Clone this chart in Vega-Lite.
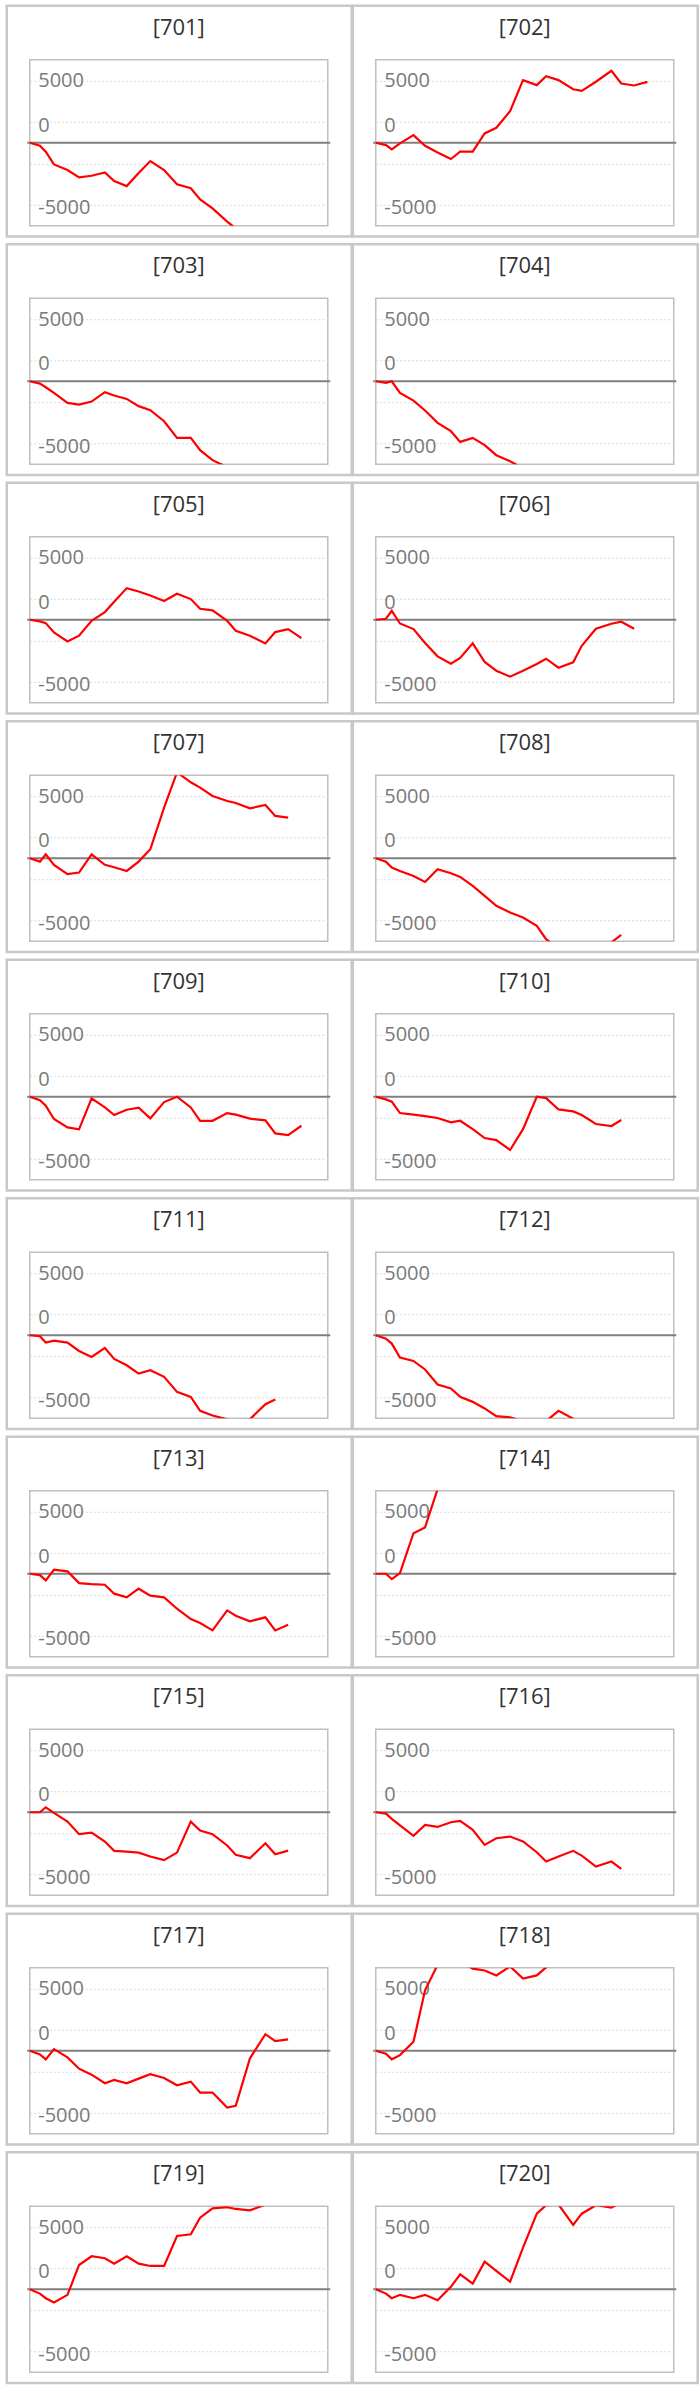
{
  "$schema": "https://vega.github.io/schema/vega-lite/v6.json",
  "background": "white",
  "padding": {"left": 4.75, "top": 2.75, "right": 1.75, "bottom": 3.5},
  "data": {
    "values": [
      {"id": "[701]", "t": 0, "v": 0}, {"id": "[701]", "t": 0.82, "v": -240}, {"id": "[701]", "t": 1.29, "v": -720}, {"id": "[701]", "t": 1.95, "v": -1740},
      {"id": "[701]", "t": 3.04, "v": -2190}, {"id": "[701]", "t": 3.97, "v": -2780}, {"id": "[701]", "t": 4.98, "v": -2650}, {"id": "[701]", "t": 6.05, "v": -2380},
      {"id": "[701]", "t": 6.8, "v": -3075}, {"id": "[701]", "t": 7.81, "v": -3480}, {"id": "[701]", "t": 8.77, "v": -2430}, {"id": "[701]", "t": 9.71, "v": -1470},
      {"id": "[701]", "t": 10.82, "v": -2190}, {"id": "[701]", "t": 11.86, "v": -3340}, {"id": "[701]", "t": 12.97, "v": -3660}, {"id": "[701]", "t": 13.72, "v": -4550},
      {"id": "[701]", "t": 14.72, "v": -5270}, {"id": "[701]", "t": 15.9, "v": -6340}, {"id": "[701]", "t": 16.59, "v": -6885},

      {"id": "[702]", "t": 0, "v": 0}, {"id": "[702]", "t": 0.82, "v": -190}, {"id": "[702]", "t": 1.29, "v": -535}, {"id": "[702]", "t": 1.95, "v": -50},
      {"id": "[702]", "t": 3.04, "v": 615}, {"id": "[702]", "t": 3.97, "v": -240}, {"id": "[702]", "t": 4.98, "v": -775}, {"id": "[702]", "t": 6.05, "v": -1310},
      {"id": "[702]", "t": 6.8, "v": -720}, {"id": "[702]", "t": 7.81, "v": -720}, {"id": "[702]", "t": 8.77, "v": 750}, {"id": "[702]", "t": 9.71, "v": 1200},
      {"id": "[702]", "t": 10.82, "v": 2540}, {"id": "[702]", "t": 11.86, "v": 5030}, {"id": "[702]", "t": 12.97, "v": 4630}, {"id": "[702]", "t": 13.72, "v": 5350},
      {"id": "[702]", "t": 14.72, "v": 5030}, {"id": "[702]", "t": 15.9, "v": 4300}, {"id": "[702]", "t": 16.59, "v": 4170}, {"id": "[702]", "t": 17.73, "v": 4900},
      {"id": "[702]", "t": 18.98, "v": 5780}, {"id": "[702]", "t": 19.77, "v": 4760}, {"id": "[702]", "t": 20.81, "v": 4600}, {"id": "[702]", "t": 21.88, "v": 4890},

      {"id": "[703]", "t": 0, "v": 0}, {"id": "[703]", "t": 0.82, "v": -190}, {"id": "[703]", "t": 1.29, "v": -480}, {"id": "[703]", "t": 1.95, "v": -940},
      {"id": "[703]", "t": 3.04, "v": -1740}, {"id": "[703]", "t": 3.97, "v": -1870}, {"id": "[703]", "t": 4.98, "v": -1630}, {"id": "[703]", "t": 6.05, "v": -880},
      {"id": "[703]", "t": 6.8, "v": -1150}, {"id": "[703]", "t": 7.81, "v": -1420}, {"id": "[703]", "t": 8.77, "v": -2000}, {"id": "[703]", "t": 9.71, "v": -2330},
      {"id": "[703]", "t": 10.82, "v": -3210}, {"id": "[703]", "t": 11.86, "v": -4550}, {"id": "[703]", "t": 12.97, "v": -4550}, {"id": "[703]", "t": 13.72, "v": -5540},
      {"id": "[703]", "t": 14.72, "v": -6340}, {"id": "[703]", "t": 15.9, "v": -6900},

      {"id": "[704]", "t": 0, "v": 0}, {"id": "[704]", "t": 0.82, "v": -130}, {"id": "[704]", "t": 1.29, "v": 0}, {"id": "[704]", "t": 1.95, "v": -940},
      {"id": "[704]", "t": 3.04, "v": -1550}, {"id": "[704]", "t": 3.97, "v": -2350}, {"id": "[704]", "t": 4.98, "v": -3340}, {"id": "[704]", "t": 6.05, "v": -4010},
      {"id": "[704]", "t": 6.8, "v": -4870}, {"id": "[704]", "t": 7.81, "v": -4550}, {"id": "[704]", "t": 8.77, "v": -5130}, {"id": "[704]", "t": 9.71, "v": -5940},
      {"id": "[704]", "t": 10.82, "v": -6420}, {"id": "[704]", "t": 11.86, "v": -7000},

      {"id": "[705]", "t": 0, "v": 0}, {"id": "[705]", "t": 0.82, "v": -130}, {"id": "[705]", "t": 1.29, "v": -270}, {"id": "[705]", "t": 1.95, "v": -1020},
      {"id": "[705]", "t": 3.04, "v": -1740}, {"id": "[705]", "t": 3.97, "v": -1280}, {"id": "[705]", "t": 4.98, "v": -80}, {"id": "[705]", "t": 6.05, "v": 615},
      {"id": "[705]", "t": 6.8, "v": 1440}, {"id": "[705]", "t": 7.81, "v": 2540}, {"id": "[705]", "t": 8.77, "v": 2270}, {"id": "[705]", "t": 9.71, "v": 1950},
      {"id": "[705]", "t": 10.82, "v": 1500}, {"id": "[705]", "t": 11.86, "v": 2090}, {"id": "[705]", "t": 12.97, "v": 1660}, {"id": "[705]", "t": 13.72, "v": 880},
      {"id": "[705]", "t": 14.72, "v": 750}, {"id": "[705]", "t": 15.9, "v": -80}, {"id": "[705]", "t": 16.59, "v": -880}, {"id": "[705]", "t": 17.73, "v": -1280},
      {"id": "[705]", "t": 18.98, "v": -1900}, {"id": "[705]", "t": 19.77, "v": -990}, {"id": "[705]", "t": 20.81, "v": -750}, {"id": "[705]", "t": 21.88, "v": -1470},

      {"id": "[706]", "t": 0, "v": 0}, {"id": "[706]", "t": 0.82, "v": 80}, {"id": "[706]", "t": 1.29, "v": 720}, {"id": "[706]", "t": 1.95, "v": -300},
      {"id": "[706]", "t": 3.04, "v": -750}, {"id": "[706]", "t": 3.97, "v": -1870}, {"id": "[706]", "t": 4.98, "v": -2940}, {"id": "[706]", "t": 6.05, "v": -3530},
      {"id": "[706]", "t": 6.8, "v": -3070}, {"id": "[706]", "t": 7.81, "v": -1900}, {"id": "[706]", "t": 8.77, "v": -3390}, {"id": "[706]", "t": 9.71, "v": -4090},
      {"id": "[706]", "t": 10.82, "v": -4570}, {"id": "[706]", "t": 11.86, "v": -4090}, {"id": "[706]", "t": 12.97, "v": -3560}, {"id": "[706]", "t": 13.72, "v": -3130},
      {"id": "[706]", "t": 14.72, "v": -3850}, {"id": "[706]", "t": 15.9, "v": -3420}, {"id": "[706]", "t": 16.59, "v": -2090}, {"id": "[706]", "t": 17.73, "v": -720},
      {"id": "[706]", "t": 18.98, "v": -320}, {"id": "[706]", "t": 19.77, "v": -160}, {"id": "[706]", "t": 20.81, "v": -720},

      {"id": "[707]", "t": 0, "v": 0}, {"id": "[707]", "t": 0.82, "v": -270}, {"id": "[707]", "t": 1.29, "v": 320}, {"id": "[707]", "t": 1.95, "v": -530},
      {"id": "[707]", "t": 3.04, "v": -1280}, {"id": "[707]", "t": 3.97, "v": -1150}, {"id": "[707]", "t": 4.98, "v": 320}, {"id": "[707]", "t": 6.05, "v": -530},
      {"id": "[707]", "t": 6.8, "v": -720}, {"id": "[707]", "t": 7.81, "v": -1020}, {"id": "[707]", "t": 8.77, "v": -270}, {"id": "[707]", "t": 9.71, "v": 720},
      {"id": "[707]", "t": 10.82, "v": 4060}, {"id": "[707]", "t": 11.86, "v": 6900}, {"id": "[707]", "t": 12.97, "v": 6100}, {"id": "[707]", "t": 13.72, "v": 5670},
      {"id": "[707]", "t": 14.72, "v": 5000}, {"id": "[707]", "t": 15.9, "v": 4600}, {"id": "[707]", "t": 16.59, "v": 4440}, {"id": "[707]", "t": 17.73, "v": 4010},
      {"id": "[707]", "t": 18.98, "v": 4280}, {"id": "[707]", "t": 19.77, "v": 3400}, {"id": "[707]", "t": 20.81, "v": 3260},

      {"id": "[708]", "t": 0, "v": 0}, {"id": "[708]", "t": 0.82, "v": -270}, {"id": "[708]", "t": 1.29, "v": -750}, {"id": "[708]", "t": 1.95, "v": -1020},
      {"id": "[708]", "t": 3.04, "v": -1420}, {"id": "[708]", "t": 3.97, "v": -1900}, {"id": "[708]", "t": 4.98, "v": -880}, {"id": "[708]", "t": 6.05, "v": -1200},
      {"id": "[708]", "t": 6.8, "v": -1500}, {"id": "[708]", "t": 7.81, "v": -2220}, {"id": "[708]", "t": 8.77, "v": -3020}, {"id": "[708]", "t": 9.71, "v": -3820},
      {"id": "[708]", "t": 10.82, "v": -4360}, {"id": "[708]", "t": 11.86, "v": -4760}, {"id": "[708]", "t": 12.97, "v": -5430}, {"id": "[708]", "t": 13.72, "v": -6500},
      {"id": "[708]", "t": 14.72, "v": -7300}, {"id": "[708]", "t": 15.9, "v": -7500}, {"id": "[708]", "t": 16.59, "v": -7500}, {"id": "[708]", "t": 17.73, "v": -7300},
      {"id": "[708]", "t": 18.98, "v": -6750}, {"id": "[708]", "t": 19.77, "v": -6150},

      {"id": "[709]", "t": 0, "v": 0}, {"id": "[709]", "t": 0.82, "v": -270}, {"id": "[709]", "t": 1.29, "v": -720}, {"id": "[709]", "t": 1.95, "v": -1790},
      {"id": "[709]", "t": 3.04, "v": -2460}, {"id": "[709]", "t": 3.97, "v": -2620}, {"id": "[709]", "t": 4.98, "v": -130}, {"id": "[709]", "t": 6.05, "v": -860},
      {"id": "[709]", "t": 6.8, "v": -1470}, {"id": "[709]", "t": 7.81, "v": -1040}, {"id": "[709]", "t": 8.77, "v": -880}, {"id": "[709]", "t": 9.71, "v": -1740},
      {"id": "[709]", "t": 10.82, "v": -430}, {"id": "[709]", "t": 11.86, "v": 0}, {"id": "[709]", "t": 12.97, "v": -860}, {"id": "[709]", "t": 13.72, "v": -1930},
      {"id": "[709]", "t": 14.72, "v": -1930}, {"id": "[709]", "t": 15.9, "v": -1310}, {"id": "[709]", "t": 16.59, "v": -1440}, {"id": "[709]", "t": 17.73, "v": -1760},
      {"id": "[709]", "t": 18.98, "v": -1900}, {"id": "[709]", "t": 19.77, "v": -2940}, {"id": "[709]", "t": 20.81, "v": -3080}, {"id": "[709]", "t": 21.88, "v": -2330},

      {"id": "[710]", "t": 0, "v": 0}, {"id": "[710]", "t": 0.82, "v": -210}, {"id": "[710]", "t": 1.29, "v": -400}, {"id": "[710]", "t": 1.95, "v": -1310},
      {"id": "[710]", "t": 3.04, "v": -1440}, {"id": "[710]", "t": 3.97, "v": -1550}, {"id": "[710]", "t": 4.98, "v": -1710}, {"id": "[710]", "t": 6.05, "v": -2060},
      {"id": "[710]", "t": 6.8, "v": -1930}, {"id": "[710]", "t": 7.81, "v": -2600}, {"id": "[710]", "t": 8.77, "v": -3320}, {"id": "[710]", "t": 9.71, "v": -3480},
      {"id": "[710]", "t": 10.82, "v": -4280}, {"id": "[710]", "t": 11.86, "v": -2600}, {"id": "[710]", "t": 12.97, "v": 0}, {"id": "[710]", "t": 13.72, "v": -110},
      {"id": "[710]", "t": 14.72, "v": -1020}, {"id": "[710]", "t": 15.9, "v": -1180}, {"id": "[710]", "t": 16.59, "v": -1470}, {"id": "[710]", "t": 17.73, "v": -2190},
      {"id": "[710]", "t": 18.98, "v": -2350}, {"id": "[710]", "t": 19.77, "v": -1870},

      {"id": "[711]", "t": 0, "v": 0}, {"id": "[711]", "t": 0.82, "v": -80}, {"id": "[711]", "t": 1.29, "v": -590}, {"id": "[711]", "t": 1.95, "v": -430},
      {"id": "[711]", "t": 3.04, "v": -590}, {"id": "[711]", "t": 3.97, "v": -1260}, {"id": "[711]", "t": 4.98, "v": -1740}, {"id": "[711]", "t": 6.05, "v": -1020},
      {"id": "[711]", "t": 6.8, "v": -1900}, {"id": "[711]", "t": 7.81, "v": -2410}, {"id": "[711]", "t": 8.77, "v": -3080}, {"id": "[711]", "t": 9.71, "v": -2810},
      {"id": "[711]", "t": 10.82, "v": -3340}, {"id": "[711]", "t": 11.86, "v": -4550}, {"id": "[711]", "t": 12.97, "v": -4950}, {"id": "[711]", "t": 13.72, "v": -6070},
      {"id": "[711]", "t": 14.72, "v": -6450}, {"id": "[711]", "t": 15.9, "v": -6750}, {"id": "[711]", "t": 16.59, "v": -7000}, {"id": "[711]", "t": 17.73, "v": -6750},
      {"id": "[711]", "t": 18.98, "v": -5540}, {"id": "[711]", "t": 19.77, "v": -5160},

      {"id": "[712]", "t": 0, "v": 0}, {"id": "[712]", "t": 0.82, "v": -270}, {"id": "[712]", "t": 1.29, "v": -670}, {"id": "[712]", "t": 1.95, "v": -1790},
      {"id": "[712]", "t": 3.04, "v": -2060}, {"id": "[712]", "t": 3.97, "v": -2750}, {"id": "[712]", "t": 4.98, "v": -3960}, {"id": "[712]", "t": 6.05, "v": -4280},
      {"id": "[712]", "t": 6.8, "v": -4950}, {"id": "[712]", "t": 7.81, "v": -5350}, {"id": "[712]", "t": 8.77, "v": -5880}, {"id": "[712]", "t": 9.71, "v": -6500},
      {"id": "[712]", "t": 10.82, "v": -6600}, {"id": "[712]", "t": 11.86, "v": -6900}, {"id": "[712]", "t": 12.97, "v": -7000}, {"id": "[712]", "t": 13.72, "v": -6900},
      {"id": "[712]", "t": 14.72, "v": -6070}, {"id": "[712]", "t": 15.9, "v": -6700},

      {"id": "[713]", "t": 0, "v": 0}, {"id": "[713]", "t": 0.82, "v": -110}, {"id": "[713]", "t": 1.29, "v": -530}, {"id": "[713]", "t": 1.95, "v": 320},
      {"id": "[713]", "t": 3.04, "v": 190}, {"id": "[713]", "t": 3.97, "v": -750}, {"id": "[713]", "t": 4.98, "v": -830}, {"id": "[713]", "t": 6.05, "v": -880},
      {"id": "[713]", "t": 6.8, "v": -1600}, {"id": "[713]", "t": 7.81, "v": -1900}, {"id": "[713]", "t": 8.77, "v": -1200}, {"id": "[713]", "t": 9.71, "v": -1760},
      {"id": "[713]", "t": 10.82, "v": -1900}, {"id": "[713]", "t": 11.86, "v": -2810}, {"id": "[713]", "t": 12.97, "v": -3640}, {"id": "[713]", "t": 13.72, "v": -3960},
      {"id": "[713]", "t": 14.72, "v": -4550}, {"id": "[713]", "t": 15.9, "v": -2940}, {"id": "[713]", "t": 16.59, "v": -3370}, {"id": "[713]", "t": 17.73, "v": -3820},
      {"id": "[713]", "t": 18.98, "v": -3500}, {"id": "[713]", "t": 19.77, "v": -4550}, {"id": "[713]", "t": 20.81, "v": -4090},

      {"id": "[714]", "t": 0, "v": 0}, {"id": "[714]", "t": 0.82, "v": 0}, {"id": "[714]", "t": 1.29, "v": -430}, {"id": "[714]", "t": 1.95, "v": 50},
      {"id": "[714]", "t": 3.04, "v": 3260}, {"id": "[714]", "t": 3.97, "v": 3720}, {"id": "[714]", "t": 4.98, "v": 6800}, {"id": "[714]", "t": 6.05, "v": 7500},

      {"id": "[715]", "t": 0, "v": 0}, {"id": "[715]", "t": 0.82, "v": 0}, {"id": "[715]", "t": 1.29, "v": 400}, {"id": "[715]", "t": 1.95, "v": -50},
      {"id": "[715]", "t": 3.04, "v": -750}, {"id": "[715]", "t": 3.97, "v": -1760}, {"id": "[715]", "t": 4.98, "v": -1630}, {"id": "[715]", "t": 6.05, "v": -2350},
      {"id": "[715]", "t": 6.8, "v": -3100}, {"id": "[715]", "t": 7.81, "v": -3160}, {"id": "[715]", "t": 8.77, "v": -3240}, {"id": "[715]", "t": 9.71, "v": -3560},
      {"id": "[715]", "t": 10.82, "v": -3850}, {"id": "[715]", "t": 11.86, "v": -3240}, {"id": "[715]", "t": 12.97, "v": -750}, {"id": "[715]", "t": 13.72, "v": -1470},
      {"id": "[715]", "t": 14.72, "v": -1760}, {"id": "[715]", "t": 15.9, "v": -2670}, {"id": "[715]", "t": 16.59, "v": -3420}, {"id": "[715]", "t": 17.73, "v": -3690},
      {"id": "[715]", "t": 18.98, "v": -2490}, {"id": "[715]", "t": 19.77, "v": -3370}, {"id": "[715]", "t": 20.81, "v": -3080},

      {"id": "[716]", "t": 0, "v": 0}, {"id": "[716]", "t": 0.82, "v": -110}, {"id": "[716]", "t": 1.29, "v": -530}, {"id": "[716]", "t": 1.95, "v": -1050},
      {"id": "[716]", "t": 3.04, "v": -1900}, {"id": "[716]", "t": 3.97, "v": -1020}, {"id": "[716]", "t": 4.98, "v": -1180}, {"id": "[716]", "t": 6.05, "v": -800},
      {"id": "[716]", "t": 6.8, "v": -700}, {"id": "[716]", "t": 7.81, "v": -1420}, {"id": "[716]", "t": 8.77, "v": -2620}, {"id": "[716]", "t": 9.71, "v": -2090},
      {"id": "[716]", "t": 10.82, "v": -1950}, {"id": "[716]", "t": 11.86, "v": -2350}, {"id": "[716]", "t": 12.97, "v": -3210}, {"id": "[716]", "t": 13.72, "v": -3960},
      {"id": "[716]", "t": 14.72, "v": -3560}, {"id": "[716]", "t": 15.9, "v": -3100}, {"id": "[716]", "t": 16.59, "v": -3480}, {"id": "[716]", "t": 17.73, "v": -4360},
      {"id": "[716]", "t": 18.98, "v": -3960}, {"id": "[716]", "t": 19.77, "v": -4550},

      {"id": "[717]", "t": 0, "v": 0}, {"id": "[717]", "t": 0.82, "v": -290}, {"id": "[717]", "t": 1.29, "v": -690}, {"id": "[717]", "t": 1.95, "v": 130},
      {"id": "[717]", "t": 3.04, "v": -530}, {"id": "[717]", "t": 3.97, "v": -1440}, {"id": "[717]", "t": 4.98, "v": -1920}, {"id": "[717]", "t": 6.05, "v": -2610},
      {"id": "[717]", "t": 6.8, "v": -2350}, {"id": "[717]", "t": 7.81, "v": -2610}, {"id": "[717]", "t": 8.77, "v": -2240}, {"id": "[717]", "t": 9.71, "v": -1890},
      {"id": "[717]", "t": 10.82, "v": -2190}, {"id": "[717]", "t": 11.86, "v": -2770}, {"id": "[717]", "t": 12.97, "v": -2480}, {"id": "[717]", "t": 13.72, "v": -3360},
      {"id": "[717]", "t": 14.72, "v": -3360}, {"id": "[717]", "t": 15.9, "v": -4560}, {"id": "[717]", "t": 16.59, "v": -4430}, {"id": "[717]", "t": 17.73, "v": -610},
      {"id": "[717]", "t": 18.98, "v": 1330}, {"id": "[717]", "t": 19.77, "v": 770}, {"id": "[717]", "t": 20.81, "v": 910},

      {"id": "[718]", "t": 0, "v": 0}, {"id": "[718]", "t": 0.82, "v": -240}, {"id": "[718]", "t": 1.29, "v": -690}, {"id": "[718]", "t": 1.95, "v": -350},
      {"id": "[718]", "t": 3.04, "v": 720}, {"id": "[718]", "t": 3.97, "v": 4850}, {"id": "[718]", "t": 4.98, "v": 6900}, {"id": "[718]", "t": 6.05, "v": 7300},
      {"id": "[718]", "t": 6.8, "v": 7200}, {"id": "[718]", "t": 7.81, "v": 6600}, {"id": "[718]", "t": 8.77, "v": 6450}, {"id": "[718]", "t": 9.71, "v": 6050},
      {"id": "[718]", "t": 10.82, "v": 6770}, {"id": "[718]", "t": 11.86, "v": 5790}, {"id": "[718]", "t": 12.97, "v": 6050}, {"id": "[718]", "t": 13.72, "v": 6700},
      {"id": "[718]", "t": 14.72, "v": 7200},

      {"id": "[719]", "t": 0, "v": 0}, {"id": "[719]", "t": 0.82, "v": -350}, {"id": "[719]", "t": 1.29, "v": -720}, {"id": "[719]", "t": 1.95, "v": -1070},
      {"id": "[719]", "t": 3.04, "v": -450}, {"id": "[719]", "t": 3.97, "v": 1950}, {"id": "[719]", "t": 4.98, "v": 2650}, {"id": "[719]", "t": 6.05, "v": 2490},
      {"id": "[719]", "t": 6.8, "v": 2060}, {"id": "[719]", "t": 7.81, "v": 2650}, {"id": "[719]", "t": 8.77, "v": 2060}, {"id": "[719]", "t": 9.71, "v": 1870},
      {"id": "[719]", "t": 10.82, "v": 1870}, {"id": "[719]", "t": 11.86, "v": 4280}, {"id": "[719]", "t": 12.97, "v": 4410}, {"id": "[719]", "t": 13.72, "v": 5750},
      {"id": "[719]", "t": 14.72, "v": 6500}, {"id": "[719]", "t": 15.9, "v": 6600}, {"id": "[719]", "t": 16.59, "v": 6450}, {"id": "[719]", "t": 17.73, "v": 6340},
      {"id": "[719]", "t": 18.98, "v": 6800}, {"id": "[719]", "t": 19.77, "v": 7200},

      {"id": "[720]", "t": 0, "v": 0}, {"id": "[720]", "t": 0.82, "v": -350}, {"id": "[720]", "t": 1.29, "v": -720}, {"id": "[720]", "t": 1.95, "v": -450},
      {"id": "[720]", "t": 3.04, "v": -720}, {"id": "[720]", "t": 3.97, "v": -450}, {"id": "[720]", "t": 4.98, "v": -880}, {"id": "[720]", "t": 6.05, "v": 190},
      {"id": "[720]", "t": 6.8, "v": 1200}, {"id": "[720]", "t": 7.81, "v": 450}, {"id": "[720]", "t": 8.77, "v": 2220}, {"id": "[720]", "t": 9.71, "v": 1470},
      {"id": "[720]", "t": 10.82, "v": 610}, {"id": "[720]", "t": 11.86, "v": 3340}, {"id": "[720]", "t": 12.97, "v": 6070}, {"id": "[720]", "t": 13.72, "v": 6750},
      {"id": "[720]", "t": 14.72, "v": 6800}, {"id": "[720]", "t": 15.9, "v": 5160}, {"id": "[720]", "t": 16.59, "v": 6070}, {"id": "[720]", "t": 17.73, "v": 6750},
      {"id": "[720]", "t": 18.98, "v": 6560}, {"id": "[720]", "t": 19.77, "v": 7000}
    ]
  },
  "facet": {
    "field": "id",
    "type": "nominal",
    "title": null,
    "header": {"labels": false, "labelExpr": "''", "labelFontSize": 1, "labelPadding": 0, "title": null, "titlePadding": 0}
  },
  "columns": 2,
  "bounds": "flush",
  "spacing": {"row": 72.5, "column": 48},
  "resolve": {"axis": {"y": "independent"}},
  "spec": {
    "width": 298,
    "height": 166,
    "layer": [
      {
        "transform": [{"filter": "datum.t === 0"}],
        "mark": {"type": "rect", "fillOpacity": 0, "stroke": "#c8c8c8", "strokeWidth": 2.5},
        "encoding": {
          "x": {"datum": -1.85, "type": "quantitative", "title": null},
          "x2": {"datum": 25.93},
          "y": {"datum": 11004, "type": "quantitative", "title": null},
          "y2": {"datum": -7526}
        }
      },
      {
        "transform": [{"filter": "datum.t === 0"}],
        "mark": {"type": "text", "font": "Open Sans", "fontSize": 22, "color": "#333333", "align": "center", "baseline": "middle"},
        "encoding": {
          "x": {"datum": 12, "type": "quantitative", "title": null},
          "y": {"datum": 9240, "type": "quantitative", "title": null},
          "text": {"field": "id"}
        }
      },
      {
        "transform": [{"filter": "datum.t === 0"}],
        "mark": {"type": "rule", "color": "#7f7f7f", "strokeWidth": 2},
        "encoding": {
          "x": {"datum": -0.2, "type": "quantitative", "title": null},
          "x2": {"datum": 24.2},
          "y": {"datum": 0, "type": "quantitative", "title": null}
        }
      },
      {
        "mark": {"type": "line", "color": "#ff0000", "strokeWidth": 2.2, "clip": true},
        "encoding": {
          "x": {
            "field": "t",
            "type": "quantitative",
            "title": null,
            "scale": {"domain": [0, 24], "nice": false, "zero": false},
            "axis": null
          },
          "y": {
            "field": "v",
            "type": "quantitative",
            "title": null,
            "scale": {"domain": [-6667, 6667], "nice": false, "zero": false},
            "axis": {
              "values": [-5000, -3333.33, -1666.67, 0, 1666.67, 3333.33, 5000],
              "title": null,
              "domain": false,
              "ticks": false,
              "tickSize": 0,
              "labelExpr": "datum.value === 5000 ? '5000' : datum.value === -5000 ? '-5000' : datum.value === 1666.67 ? '0' : ''",
              "labelAlign": "left",
              "labelBaseline": "middle",
              "labelPadding": -8,
              "labelOffset": {"condition": {"test": "datum.value === 5000", "value": 0}, "value": 3},
              "labelFont": "Open Sans",
              "labelFontSize": 20,
              "labelColor": "#7a7a7a",
              "labelOverlap": false,
              "labelFlush": false,
              "labelBound": false,
              "gridColor": "#d9d9d9",
              "gridDash": [2, 2],
              "gridWidth": 1
            }
          }
        }
      }
    ]
  },
  "config": {
    "view": {"stroke": "#bfbfbf", "strokeWidth": 1.5},
    "header": {"labels": false, "title": null},
    "axisX": {"disable": true},
    "axis": {"grid": true}
  }
}
